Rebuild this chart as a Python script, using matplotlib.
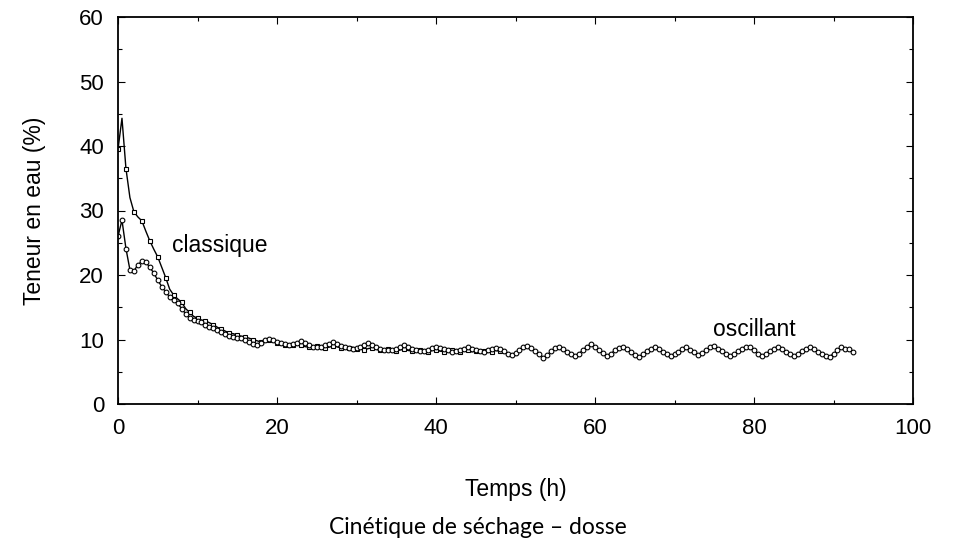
import numpy as np
import matplotlib
matplotlib.use("Agg")
import matplotlib.pyplot as plt

# ---- data ----
step_h = 0.5
oscillant = [
    26.0, 28.5, 24.1, 20.8, 20.6, 21.6, 22.1, 22.0, 21.2, 20.3,
    19.2, 18.2, 17.4, 16.6, 16.1, 15.6, 14.8, 14.0, 13.4, 13.1,
    12.9, 12.7, 12.3, 12.0, 11.8, 11.4, 11.1, 10.8, 10.5, 10.4,
    10.3, 10.2, 9.9, 9.6, 9.3, 9.1, 9.5, 9.9, 10.1, 9.9,
    9.6, 9.4, 9.3, 9.2, 9.3, 9.5, 9.7, 9.4, 9.1, 8.9,
    8.8, 8.9, 9.1, 9.3, 9.6, 9.3, 9.0, 8.8, 8.7, 8.6,
    8.7, 8.9, 9.2, 9.4, 9.1, 8.8, 8.6, 8.4, 8.3, 8.4,
    8.6, 8.8, 9.1, 8.9, 8.6, 8.4, 8.2, 8.2, 8.4, 8.7,
    8.9, 8.7, 8.5, 8.3, 8.1, 8.2, 8.4, 8.6, 8.8, 8.6,
    8.4, 8.2, 8.1, 8.3, 8.5, 8.7, 8.6, 8.2, 7.8, 7.6,
    7.9, 8.4, 8.9, 9.0, 8.7, 8.2, 7.7, 7.2, 7.6, 8.2,
    8.7, 8.9, 8.6, 8.1, 7.7, 7.4, 7.8, 8.4, 8.9, 9.3,
    8.9, 8.4, 7.9, 7.4, 7.8, 8.3, 8.7, 8.9, 8.5, 8.0,
    7.6, 7.3, 7.7, 8.2, 8.6, 8.8, 8.5, 8.1, 7.7, 7.4,
    7.7, 8.1, 8.5, 8.8, 8.4, 8.0, 7.6, 7.9, 8.4, 8.8,
    9.0, 8.6, 8.2, 7.8, 7.4, 7.7, 8.2, 8.6, 8.9, 8.8,
    8.3, 7.8, 7.4, 7.8, 8.2, 8.6, 8.9, 8.6, 8.1, 7.7,
    7.4, 7.8, 8.2, 8.5, 8.8, 8.6, 8.1, 7.7, 7.4, 7.3,
    7.8, 8.3, 8.8, 8.6, 8.5, 8.1,
]
classique = [
    39.5, 44.3, 36.5, 32.0, 29.8, 29.0, 28.4, 26.8, 25.3, 24.0,
    22.8, 21.2, 19.6, 17.8, 16.9, 16.3, 15.8, 14.8, 14.2, 13.6,
    13.3, 13.0, 12.9, 12.6, 12.3, 11.9, 11.6, 11.3, 11.0, 10.9,
    10.7, 10.5, 10.4, 10.2, 10.0, 9.8, 9.6, 9.8, 10.0, 9.8,
    9.5, 9.3, 9.2, 9.1, 9.2, 9.3, 9.1, 8.9, 8.8, 8.9,
    9.0, 8.8, 8.7, 8.8, 9.0, 8.9, 8.7, 8.6, 8.7, 8.8,
    8.6, 8.5, 8.4, 8.6, 8.7, 8.5, 8.3, 8.4, 8.5, 8.3,
    8.2, 8.4, 8.5, 8.3, 8.2, 8.3, 8.4, 8.2, 8.1, 8.3,
    8.4, 8.2, 8.1, 8.3, 8.4, 8.2, 8.0, 8.2, 8.3, 8.1,
    8.2, 8.4, 8.2, 8.0, 8.1, 8.3, 8.2,
]
t_osc = np.arange(len(oscillant)) * step_h
t_cla = np.arange(len(classique)) * step_h

x_ticks = [0, 20, 40, 60, 80, 100]
y_ticks = [0, 10, 20, 30, 40, 50, 60]

font = ["Liberation Sans", "DejaVu Sans"]
plt.rcParams["font.family"] = font

fig = plt.figure(figsize=(9.55, 5.45), dpi=100)
ax = fig.add_axes([118 / 955, 1 - 404 / 545, (913 - 118) / 955, (404 - 17) / 545])

ax.plot(t_cla, classique, color="black", lw=1.0, marker="s", markevery=(0, 2),
        ms=3.4, mfc="white", mec="black", mew=0.8)
ax.plot(t_osc, oscillant, color="black", lw=1.0, marker="o",
        ms=3.4, mfc="white", mec="black", mew=0.8)

ax.set_xlim(0, 100)
ax.set_ylim(0, 60)
ax.set_xticks(x_ticks)
ax.set_yticks(y_ticks)
ax.set_xticks(np.array([10, 30, 50, 70, 90]), minor=True)
ax.set_yticks(np.array([5, 15, 25, 35, 45, 55]), minor=True)
ax.tick_params(which="both", direction="in", top=True, right=True,
               labelsize=16, pad=10)
ax.tick_params(which="major", length=5, width=0.8)
ax.tick_params(which="minor", length=3, width=0.8)
for s in ax.spines.values():
    s.set_linewidth(1.3)

ax.set_xlabel("Temps (h)", fontsize=16.5, labelpad=28)
ax.set_ylabel("Teneur en eau (%)", fontsize=16.5, labelpad=24)

ax.text(6.8, 24.5, "classique", fontsize=16.5, ha="left", va="center")
ax.text(74.8, 11.5, "oscillant", fontsize=16.5, ha="left", va="center")

fig.text(478 / 955, 1 - 527 / 545, "Cinétique de séchage – dosse",
         fontsize=16.5, ha="center", va="center", family=["Lato", "DejaVu Sans"])

fig.savefig("out.png", dpi=100)
